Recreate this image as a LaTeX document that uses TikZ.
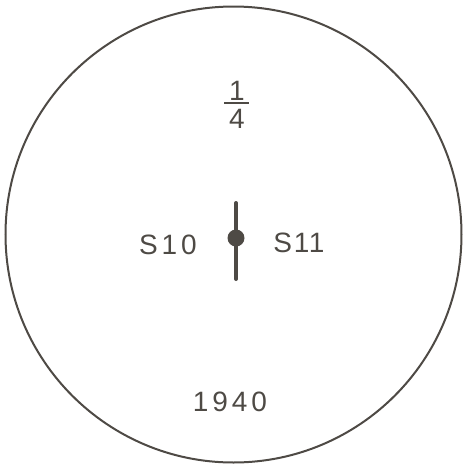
\documentclass[tikz,border=0pt]{standalone}
\usepackage{fontspec}
\setmainfont{Liberation Sans}
\begin{document}
\begin{tikzpicture}[x=1pt,y=-1pt,
  ink/.style={draw=inkc,line width=2pt},
  lbl/.style={text=inkc,inner sep=0pt,font=\fontsize{28}{28}\selectfont\addfontfeatures{LetterSpace=14}}]
\definecolor{inkc}{HTML}{4E4A45}
\useasboundingbox (0,0) rectangle (466,467);
\node[ink,circle,minimum size=456pt,inner sep=0pt] (dial) at (233.5,234.5) {};
\coordinate (bartop) at (236,203);
\coordinate (barbot) at (236,279);
\draw[inkc,line width=4pt,line cap=round] (bartop) -- (barbot);
\node[circle,fill=inkc,minimum size=17pt,inner sep=0pt] (pivot) at (236,238) {};
\node[lbl] (s10) at (168,245) {S10};
\node[lbl,font=\fontsize{28}{28}\selectfont\addfontfeatures{LetterSpace=6}] (s11) at (299,243) {S11};
\node[lbl] (num) at (237,91) {1};
\node[lbl] (den) at (237,119) {4};
\coordinate (fl) at (224,103);
\coordinate (fr) at (249,103);
\draw[inkc,line width=1.8pt] (fl) -- (fr);
\node[lbl] (year) at (230,402) {1940};
\end{tikzpicture}
\end{document}
